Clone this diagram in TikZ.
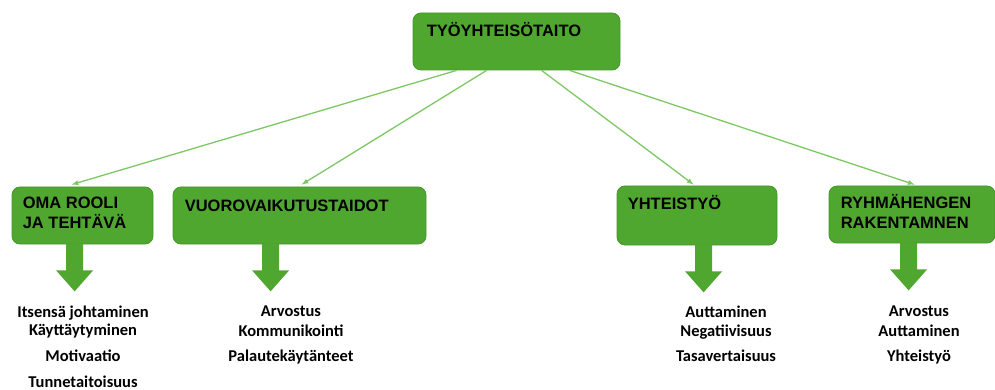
\documentclass[tikz,border=0pt]{standalone}
\usepackage{fontspec}
\setmainfont{Carlito}
\newfontfamily\titlefont{Liberation Sans}
\usetikzlibrary{calc}
\usetikzlibrary{arrows}

\definecolor{boxgreen}{RGB}{80,167,48}
\definecolor{boxedge}{RGB}{70,150,42}
\definecolor{linegreen}{RGB}{125,200,100}

% big down arrow under a box
\newcommand{\bigdown}[1]{\fill[boxgreen] ($(#1)+(-8.5,0)$) -- ($(#1)+(-8.5,27)$) -- ($(#1)+(-18.5,27)$) -- ($(#1)+(0,48)$) -- ($(#1)+(18.5,27)$) -- ($(#1)+(8.5,27)$) -- ($(#1)+(8.5,0)$) -- cycle;}

\begin{document}
\begin{tikzpicture}[x=1pt,y=-1pt]
		\tikzstyle{gbox}=[rectangle,rounded corners=8pt,fill=boxgreen,draw=boxedge,line width=0.8pt,inner sep=0pt]
		\tikzstyle{title}=[font=\titlefont\fontsize{16.5}{20}\selectfont\bfseries,align=left,anchor=base west,inner sep=0pt]
		\tikzstyle{item}=[font=\fontsize{16.5}{18}\selectfont\bfseries,anchor=base,inner sep=0pt]
		\tikzstyle{link}=[draw=linegreen,line width=1.3pt,-latex]
		\useasboundingbox (0,0) rectangle (995,390);
		
		% boxes
		\node[gbox,minimum width=207pt,minimum height=57pt](top) at (516.5,41.5) {};
		\node[gbox,minimum width=141pt,minimum height=57pt](oma) at (82.5,215.5) {};
		\node[gbox,minimum width=253pt,minimum height=57pt](vuoro) at (299.5,215.5) {};
		\node[gbox,minimum width=160pt,minimum height=59pt](yht) at (697,215.5) {};
		\node[gbox,minimum width=166pt,minimum height=57pt](ryhma) at (912,214.5) {};
		
		% titles (two-line ones sit on their last baseline)
		\node[title](toptxt) at ($(top.north west)+(14,24)$) {TYÖYHTEISÖTAITO};
		\node[title](omatxt) at ($(oma.north west)+(11,42)$) {OMA ROOLI\\JA TEHTÄVÄ};
		\node[title](vuorotxt) at ($(vuoro.north west)+(12,25)$) {VUOROVAIKUTUSTAIDOT};
		\node[title](yhttxt) at ($(yht.north west)+(11,24)$) {YHTEISTYÖ};
		\node[title](ryhmatxt) at ($(ryhma.north west)+(12,43)$) {RYHMÄHENGEN\\RAKENTAMNEN};
		
		% thin arrows
		\coordinate (t1) at ($(top.south west)+(44,0)$);
		\coordinate (t2) at ($(top.south west)+(74,0)$);
		\coordinate (t3) at ($(top.south west)+(129,0)$);
		\coordinate (t4) at ($(top.south west)+(157,0)$);
		\coordinate (e1) at ($(oma.north west)+(60,-2)$);
		\coordinate (e2) at ($(vuoro.north west)+(129,-2)$);
		\coordinate (e3) at ($(yht.north west)+(77,-1)$);
		\coordinate (e4) at ($(ryhma.north west)+(86,-1)$);
		\draw[link] (t1) -- (e1);
		\draw[link] (t2) -- (e2);
		\draw[link] (t3) -- (e3);
		\draw[link] (t4) -- (e4);
		
		% big arrows
		\coordinate (a1) at ($(oma.south west)+(63,-1)$);
		\coordinate (a2) at ($(vuoro.south west)+(98,-1)$);
		\coordinate (a3) at ($(yht.south west)+(87,-1)$);
		\coordinate (a4) at ($(ryhma.south west)+(80,-1)$);
		\bigdown{a1}
		\bigdown{a2}
		\bigdown{a3}
		\bigdown{a4}
		
		% lists
		\node[item](o1) at (83,317.5) {Itsensä johtaminen};
		\node[item](o2) at (83,335.5) {Käyttäytyminen};
		\node[item](o3) at (83,361.5) {Motivaatio};
		\node[item](o4) at (83,387) {Tunnetaitoisuus};
		\node[item](v1) at (291,316.5) {Arvostus};
		\node[item](v2) at (291,336) {Kommunikointi};
		\node[item](v3) at (291,361.5) {Palautekäytänteet};
		\node[item](y1) at (726,317) {Auttaminen};
		\node[item](y2) at (726,336) {Negatiivisuus};
		\node[item](y3) at (726,361.5) {Tasavertaisuus};
		\node[item](r1) at (919,316.5) {Arvostus};
		\node[item](r2) at (919,336) {Auttaminen};
		\node[item](r3) at (919,361.5) {Yhteistyö};
		\end{tikzpicture}
\end{document}
